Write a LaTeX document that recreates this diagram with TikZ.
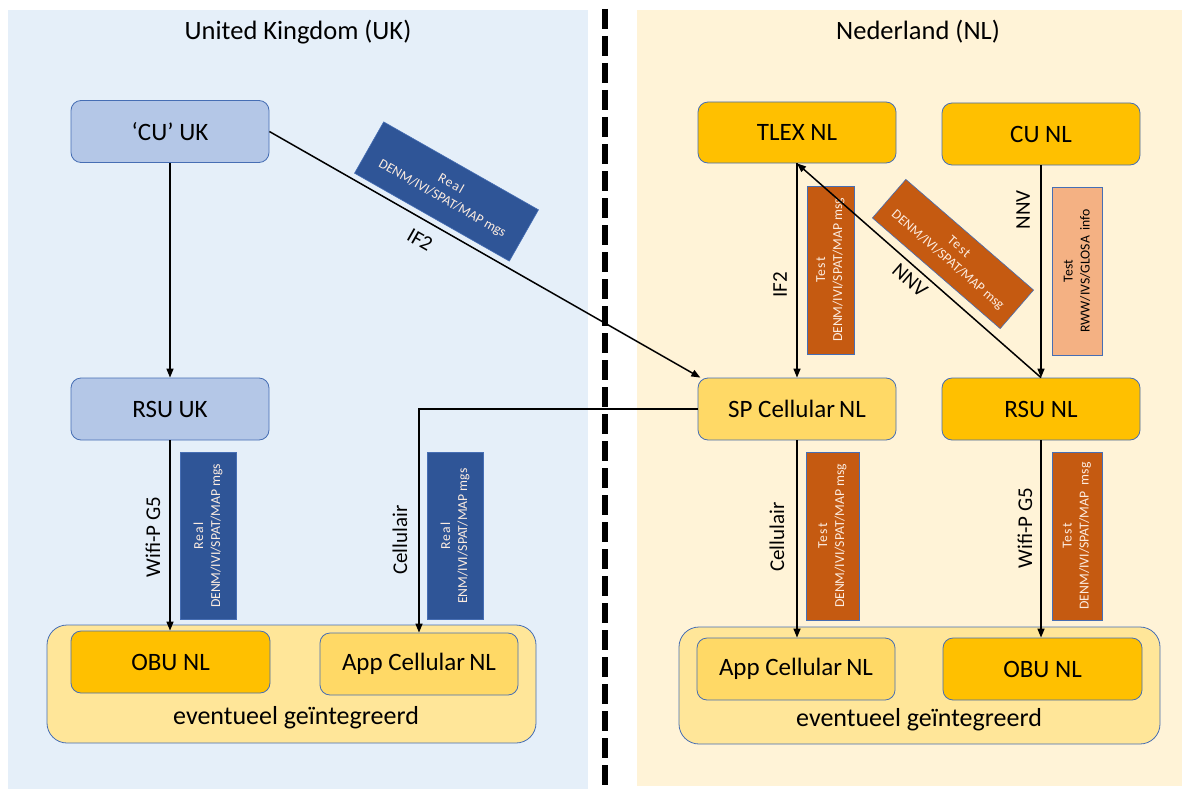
\documentclass[tikz,border=0pt]{standalone}
\usepackage{fontspec}
\setmainfont{Carlito}
\newfontfamily\spacedfont[LetterSpace=9]{Carlito}
\usetikzlibrary{arrows.meta}

\definecolor{ukbg}{RGB}{229,239,249}
\definecolor{nlbg}{RGB}{255,243,215}
\definecolor{uknode}{RGB}{180,199,231}
\definecolor{edgeblue}{RGB}{70,110,180}
\definecolor{gold}{RGB}{255,192,0}
\definecolor{lightgold}{RGB}{255,217,102}
\definecolor{holder}{RGB}{255,230,153}
\definecolor{realblue}{RGB}{47,85,151}
\definecolor{testorange}{RGB}{197,90,17}
\definecolor{salmon}{RGB}{244,177,131}
\definecolor{paletext}{RGB}{252,236,224}

\tikzset{
  unit box/.style={draw=edgeblue, line width=0.8pt, rounded corners=10pt,
    minimum width=198pt, minimum height=62pt, inner sep=0pt,
    font=\fontsize{25}{30}\selectfont},
  uk unit/.style={unit box, fill=uknode},
  gold unit/.style={unit box, fill=gold},
  light unit/.style={unit box, fill=lightgold},
  holderbox/.style={draw=edgeblue, line width=0.8pt, rounded corners=20pt,
    fill=holder, inner sep=0pt},
  msgbox/.style={draw=edgeblue, line width=0.6pt, inner sep=0pt, align=center,
    font=\fontsize{13.7}{17}\selectfont},
  real msg/.style={msgbox, fill=realblue, text=paletext},
  test msg/.style={msgbox, fill=testorange, text=paletext},
  info msg/.style={msgbox, fill=salmon, text=black},
  link/.style={line width=1.5pt, -{Triangle[length=9pt,width=7pt]}},
  linklabel/.style={inner sep=0pt, font=\fontsize{21}{24}\selectfont},
  title/.style={inner sep=0pt, font=\fontsize{26.5}{30}\selectfont},
  caption/.style={inner sep=0pt, font=\fontsize{26}{30}\selectfont},
}

\begin{document}
\begin{tikzpicture}[x=1pt, y=-1pt]
  % canvas and the two country panels
  \useasboundingbox (0,0) rectangle (1190,789);
  \fill[white] (0,0) rectangle (1190,789);
  \fill[ukbg] (8,10) rectangle (588,789);
  \fill[nlbg] (637,10) rectangle (1182,786);

  % border between the countries
  \coordinate (bordertop) at (604.5,9);
  \coordinate (borderbot) at (604.5,789);
  \draw[line width=6pt, dash pattern=on 20pt off 7pt] (bordertop) -- (borderbot);

  \node[title] (ukt) at (298,32) {United Kingdom (UK)};
  \node[title] (nlt) at (918,32) {Nederland (NL)};

  % integrated end-user equipment
  \node[holderbox, minimum width=489pt, minimum height=118pt] (contl) at (291.5,684) {};
  \node[holderbox, minimum width=481pt, minimum height=117pt] (contr) at (919.5,685.5) {};
  \node[caption] (capl) at (296,718) {eventueel geïntegreerd};
  \node[caption] (capr) at (919,720) {eventueel geïntegreerd};

  % UK side
  \node[uk unit] (cuuk) at (170,131.5) {‘CU’ UK};
  \node[uk unit] (rsuuk) at (170,409) {RSU UK};
  \node[gold unit, minimum width=199pt] (obul) at (170.5,662) {OBU NL};
  \node[light unit] (appl) at (419,664) {App Cellular\,NL};

  % NL side
  \node[gold unit, minimum height=61pt] (tlex) at (797,132.5) {TLEX NL};
  \node[gold unit] (cunl) at (1041,134) {CU NL};
  \node[light unit] (spnl) at (797,409) {SP Cellular\,NL};
  \node[gold unit] (rsunl) at (1041,409) {RSU NL};
  \node[light unit] (appr) at (796,669) {App Cellular\,NL};
  \node[gold unit, minimum width=199pt] (obur) at (1042.5,669) {OBU NL};

  % message boxes
  \node[real msg, minimum width=178pt, minimum height=59pt, rotate=-29.6] (mif2) at (446.5,191.5)
    {{\spacedfont Real}\\DENM/IVI/SPAT/MAP mgs};
  \node[real msg, minimum width=167pt, minimum height=56pt, rotate=90] (mwifil) at (208,536)
    {{\spacedfont Real}\\DENM/IVI/SPAT/MAP mgs};
  \node[real msg, minimum width=167pt, minimum height=56pt, rotate=90] (mcell) at (455,536)
    {{\spacedfont Real}\\ENM/IVI/SPAT/MAP mgs};
  \node[test msg, minimum width=168pt, minimum height=47pt, rotate=90] (mtif2) at (830.5,270)
    {{\spacedfont Test}\\DENM/IVI/SPAT/MAP msg};
  \node[test msg, minimum width=169pt, minimum height=51pt, rotate=-40.9] (mnnv) at (953,254)
    {{\spacedfont Test}\\DENM/IVI/SPAT/MAP msg};
  \node[info msg, minimum width=168pt, minimum height=50pt, rotate=90] (mrww) at (1077,271)
    {Test\\RWW/IVS/GLOSA\, info};
  \node[test msg, minimum width=168pt, minimum height=53pt, rotate=90] (mcellr) at (832.5,536)
    {{\spacedfont Test}\\DENM/IVI/SPAT/MAP msg};
  \node[test msg, minimum width=168pt, minimum height=50pt, rotate=90] (mwifir) at (1077,536)
    {{\spacedfont Test}\\DENM/IVI/SPAT/MAP\ \ msg};

  % connections
  \draw[link] (cuuk.south) -- (rsuuk.north);
  \draw[link] (rsuuk.south) -- (rsuuk.south |- obul.north);
  \draw[link] (cuuk.east) -- (spnl.162);
  \draw[link] (spnl.west) -| (appl.north);
  \draw[link] (tlex.south) -- (spnl.north);
  \draw[link] (rsunl.north) -- (tlex.south);
  \draw[link] (cunl.south) -- (rsunl.north);
  \draw[link] (spnl.south) -- (spnl.south |- appr.north);
  \draw[link] (rsunl.south) -- (rsunl.south |- obur.north);

  % connection labels
  \node[linklabel, rotate=-29.7] (lif2uk) at (420,240) {IF2};
  \node[linklabel, rotate=90] (lwifil) at (153,537) {Wifi-P G5};
  \node[linklabel, rotate=90] (lcelll) at (400,540) {Cellulair};
  \node[linklabel, rotate=90] (lif2nl) at (780,285) {IF2};
  \node[linklabel, rotate=-41] (lnnvd) at (910,280) {NNV};
  \node[linklabel, rotate=90] (lnnvv) at (1023,210) {NNV};
  \node[linklabel, rotate=90] (lcellr) at (777,537) {Cellulair};
  \node[linklabel, rotate=90] (lwifir) at (1025,528) {Wifi-P G5};
\end{tikzpicture}
\end{document}
